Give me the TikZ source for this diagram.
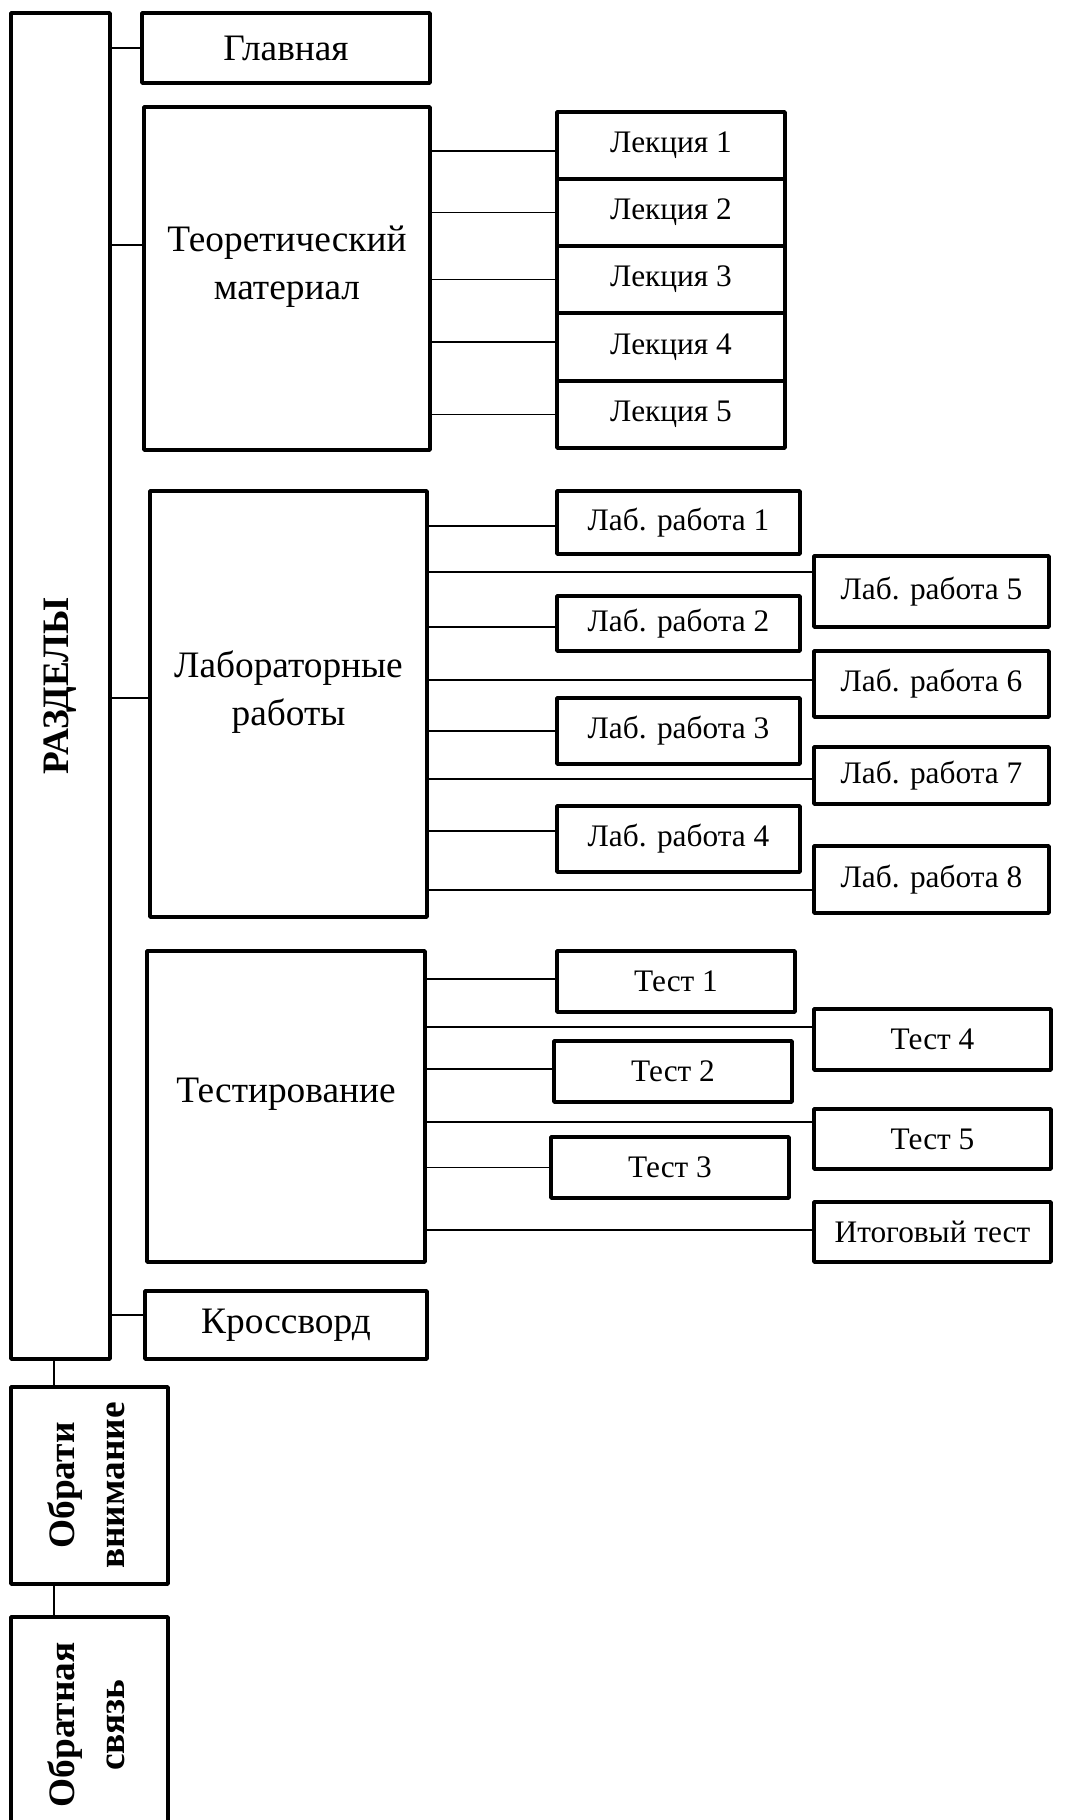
\documentclass[tikz,border=0pt]{standalone}
\usepackage{fontspec}
\setmainfont{Liberation Serif}
\tikzset{%
	box/.style    = {draw, line width=2.8pt, line join=round, inner sep=2pt, align=center},
	main/.style   = {box, font=\fontsize{28pt}{36pt}\selectfont}, % sections
	sub/.style    = {box, font=\fontsize{23.5pt}{28pt}\selectfont}, % items
	side/.style   = {box, font=\fontsize{28pt}{37pt}\selectfont\bfseries}, % vertical
	link/.style   = {line width=1pt}
}

\begin{document}
\begin{tikzpicture}[x=0.75pt,y=-0.75pt]
	\useasboundingbox (0,0) rectangle (1068,1820);
	
	% left column
	\node[side, minimum width=74.25pt, minimum height=1009.5pt] at (60.5,686) (razd) {\rotatebox{90}{РАЗДЕЛЫ}};
	\node[side, minimum width=117.75pt, minimum height=147.75pt] at (89.5,1485.5) (obr) {\rotatebox{90}{\begin{tabular}{@{}c@{}}Обрати\\внимание\end{tabular}}};
	\node[side, minimum width=117.75pt, minimum height=162pt] at (89.5,1725) (svyaz) {\rotatebox{90}{\begin{tabular}{@{}c@{}}Обратная\\связь\end{tabular}}};
	
	% sections
	\node[main, minimum width=216pt, minimum height=52.5pt] at (286,48) (glav) {Главная};
	\node[main, minimum width=214.5pt, minimum height=257.25pt, text depth=24pt] at (287,278.5) (teor) {Теоретический\\материал};
	\node[main, minimum width=207.75pt, minimum height=319.5pt, text depth=24pt] at (288.5,704) (lab) {Лабораторные\\работы};
	\node[main, minimum width=208.5pt, minimum height=233.25pt, text depth=24pt] at (286,1106.5) (test) {Тестирование};
	\node[main, minimum width=211.5pt, minimum height=51pt] at (286,1325) (kross) {Кроссворд};
	
	% lectures
	\node[sub, minimum width=171pt, minimum height=50.25pt] at (671,145.5) (lec1) {Лекция 1};
	\node[sub, minimum width=171pt, minimum height=50.25pt] at (671,212.5) (lec2) {Лекция 2};
	\node[sub, minimum width=171pt, minimum height=50.25pt] at (671,279.5) (lec3) {Лекция 3};
	\node[sub, minimum width=171pt, minimum height=50.25pt] at (671,347) (lec4) {Лекция 4};
	\node[sub, minimum width=171pt, minimum height=50.25pt] at (671,414.5) (lec5) {Лекция 5};
	
	% labs
	\node[sub, minimum width=182.25pt, minimum height=47.25pt] at (678.5,522.5) (lab1) {Лаб. работа 1};
	\node[sub, minimum width=182.25pt, minimum height=41.25pt] at (678.5,623.5) (lab2) {Лаб. работа 2};
	\node[sub, minimum width=182.25pt, minimum height=49.5pt] at (678.5,731) (lab3) {Лаб. работа 3};
	\node[sub, minimum width=182.25pt, minimum height=49.5pt] at (678.5,839) (lab4) {Лаб. работа 4};
	\node[sub, minimum width=176.25pt, minimum height=53.25pt] at (931.5,591.5) (lab5) {Лаб. работа 5};
	\node[sub, minimum width=176.25pt, minimum height=49.5pt] at (931.5,684) (lab6) {Лаб. работа 6};
	\node[sub, minimum width=176.25pt, minimum height=42.75pt] at (931.5,775.5) (lab7) {Лаб. работа 7};
	\node[sub, minimum width=176.25pt, minimum height=50.25pt] at (931.5,879.5) (lab8) {Лаб. работа 8};
	
	% tests
	\node[sub, minimum width=178.5pt, minimum height=45.75pt] at (676,981.5) (test1) {Тест 1};
	\node[sub, minimum width=178.5pt, minimum height=45.75pt] at (673,1071.5) (test2) {Тест 2};
	\node[sub, minimum width=178.5pt, minimum height=45.75pt] at (670,1167.5) (test3) {Тест 3};
	\node[sub, minimum width=177.75pt, minimum height=45.75pt] at (932.5,1039.5) (test4) {Тест 4};
	\node[sub, minimum width=177.75pt, minimum height=45pt] at (932.5,1139) (test5) {Тест 5};
	\node[sub, minimum width=177.75pt, minimum height=45pt] at (932.5,1232) (itog) {Итоговый тест};
	
	% links from the left column
	\draw[link] (glav.west) -- (glav.west -| razd.east);
	\draw[link] ([yshift=25.1pt]teor.west) -- ([yshift=25.1pt]teor.west -| razd.east);
	\draw[link] ([yshift=4.5pt]lab.west) -- ([yshift=4.5pt]lab.west -| razd.east);
	\draw[link] ([yshift=7.5pt]kross.west) -- ([yshift=7.5pt]kross.west -| razd.east);
	\draw[link] ([xshift=-26.6pt]obr.north) -- ([xshift=-26.6pt]obr.north |- razd.south);
	\draw[link] ([xshift=-26.6pt]svyaz.north) -- ([xshift=-26.6pt]svyaz.north |- obr.south);
	
	% links to lectures
	\draw[link] ([yshift=-4.1pt]lec1.west) -- ([yshift=-4.1pt]lec1.west -| teor.east);
	\draw[link] (lec2.west) -- (lec2.west -| teor.east);
	\draw[link] (lec3.west) -- (lec3.west -| teor.east);
	\draw[link] ([yshift=3.75pt]lec4.west) -- ([yshift=3.75pt]lec4.west -| teor.east);
	\draw[link] (lec5.west) -- (lec5.west -| teor.east);
	
	% links to labs
	\draw[link] ([yshift=-2.6pt]lab1.west) -- ([yshift=-2.6pt]lab1.west -| lab.east);
	\draw[link] ([yshift=-2.6pt]lab2.west) -- ([yshift=-2.6pt]lab2.west -| lab.east);
	\draw[link] (lab3.west) -- (lab3.west -| lab.east);
	\draw[link] ([yshift=6pt]lab4.west) -- ([yshift=6pt]lab4.west -| lab.east);
	\draw[link] ([yshift=14.6pt]lab5.west) -- ([yshift=14.6pt]lab5.west -| lab.east);
	\draw[link] ([yshift=3pt]lab6.west) -- ([yshift=3pt]lab6.west -| lab.east);
	\draw[link] ([yshift=-2.6pt]lab7.west) -- ([yshift=-2.6pt]lab7.west -| lab.east);
	\draw[link] ([yshift=-7.9pt]lab8.west) -- ([yshift=-7.9pt]lab8.west -| lab.east);
	
	% links to tests
	\draw[link] ([yshift=1.9pt]test1.west) -- ([yshift=1.9pt]test1.west -| test.east);
	\draw[link] ([yshift=1.9pt]test2.west) -- ([yshift=1.9pt]test2.west -| test.east);
	\draw[link] (test3.west) -- (test3.west -| test.east);
	\draw[link] ([yshift=9.4pt]test4.west) -- ([yshift=9.4pt]test4.west -| test.east);
	\draw[link] ([yshift=12.75pt]test5.west) -- ([yshift=12.75pt]test5.west -| test.east);
	\draw[link] ([yshift=1.5pt]itog.west) -- ([yshift=1.5pt]itog.west -| test.east);
	
\end{tikzpicture}
\end{document}
